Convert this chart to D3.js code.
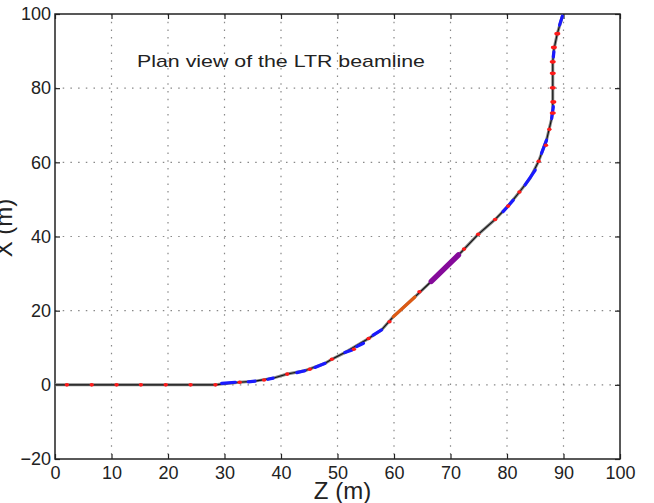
<!DOCTYPE html>
<html>
<head>
<meta charset="utf-8">
<script src="https://cdn.jsdelivr.net/npm/d3@7"></script>
<style>
  body { margin: 0; background: #fff; }
  svg text { font-family: "Liberation Sans", Arial, Helvetica, sans-serif; fill: #222; }
</style>
</head>
<body>
<div id="chart"></div>
<script>
// beam trajectory, [Z, X] in metres
const beamPath = [
  [0, 0], [28.4, 0], [29.5, 0.2], [32.7, 0.7], [35.4, 1.0], [38.6, 1.8], [41.1, 2.9],
  [44.2, 3.8], [47.8, 5.8], [49.0, 6.9], [51.3, 8.7], [55.5, 12.5], [57.8, 14.8],
  [59.9, 18.4], [63.7, 23.7], [66.4, 27.6], [71.4, 35.0], [74.9, 40.6], [77.9, 44.6],
  [80.2, 48.2], [82.2, 52.0], [84.1, 55.7], [85.6, 60.3], [87.0, 66.0], [87.9, 71.8],
  [88.1, 74.5], [88.1, 87.1], [88.3, 90.4], [88.9, 94.7], [89.8, 99.4]
];

// quadrupoles (red)
const quads = [
  [2.1, 0], [6.5, 0], [10.9, 0], [15.2, 0], [19.6, 0], [24.0, 0], [28.4, 0],
  [32.7, 0.7], [37.0, 1.3], [41.1, 2.9], [45.1, 4.2], [49.0, 6.9], [52.9, 9.6],
  [55.5, 12.5], [59.2, 17.0], [64.5, 25.1], [72.4, 36.6], [74.9, 40.6], [77.9, 44.6],
  [80.2, 48.2], [82.2, 52.0], [85.6, 60.3], [86.9, 64.6], [87.5, 68.9], [88.1, 73.3],
  [88.2, 76.3], [88.1, 80.1], [88.1, 84.0], [88.1, 87.1], [88.3, 91.0], [88.9, 94.7]
];

// dipoles (blue), [Z1, X1, Z2, X2]
const dipoles = [
  [29.5, 0.4, 31.9, 0.7], [34.2, 0.8, 35.4, 1.0], [37.7, 1.5, 38.6, 1.8],
  [42.8, 3.3, 44.2, 3.8], [46.0, 4.7, 47.8, 5.8], [51.3, 8.7, 52.6, 9.4],
  [53.4, 10.3, 54.6, 11.2], [56.3, 13.4, 57.8, 14.8], [79.3, 46.7, 81.1, 49.8],
  [83.2, 53.9, 85.0, 57.9], [86.1, 62.4, 87.0, 66.0], [87.9, 71.8, 88.2, 75.0],
  [88.2, 88.4, 88.3, 89.8], [89.3, 97.0, 89.8, 99.4]
];

// other elements
const orangeSeg = [[59.9, 18.4, 63.7, 23.7]];
const purpleSeg = [[66.6, 27.9, 71.4, 35.0]];

const zTicks = [0, 10, 20, 30, 40, 50, 60, 70, 80, 90, 100];
const xTicks = [-20, 0, 20, 40, 60, 80, 100];

const width = 654, height = 503;
const margin = { left: 55, right: 34, top: 14, bottom: 44 };
const innerW = width - margin.left - margin.right;
const innerH = height - margin.top - margin.bottom;

const svg = d3.select('#chart').append('svg')
  .attr('width', width)
  .attr('height', height);

const g = svg.append('g')
  .attr('transform', `translate(${margin.left},${margin.top})`);

const x = d3.scaleLinear().domain([0, 100]).range([0, innerW]);
const y = d3.scaleLinear().domain([-20, 100]).range([innerH, 0]);

// dotted grid
g.append('g').selectAll('line')
  .data(zTicks.slice(1, -1))
  .enter().append('line')
  .attr('x1', d => x(d)).attr('x2', d => x(d))
  .attr('y1', 0).attr('y2', innerH)
  .attr('stroke', '#888').attr('stroke-width', 1.2)
  .attr('stroke-dasharray', '1.5,6.2');

g.append('g').selectAll('line')
  .data(xTicks.slice(1, -1))
  .enter().append('line')
  .attr('y1', d => y(d)).attr('y2', d => y(d))
  .attr('x1', 0).attr('x2', innerW)
  .attr('stroke', '#888').attr('stroke-width', 1.2)
  .attr('stroke-dasharray', '1.5,6.2');

// axes, ticks pointing inward
const styleAxis = sel => {
  sel.select('.domain').remove();
  sel.selectAll('.tick line').attr('stroke', '#222').attr('stroke-width', 1.2);
  sel.selectAll('.tick text').style('font-size', '18px');
};

g.append('g')
  .attr('transform', `translate(0,${innerH})`)
  .call(d3.axisBottom(x).tickValues(zTicks).tickSize(-5).tickPadding(7))
  .call(styleAxis);

g.append('g')
  .call(d3.axisLeft(y).tickValues(xTicks).tickSize(-5).tickPadding(4))
  .call(styleAxis);

g.append('g')
  .call(d3.axisTop(x).tickValues(zTicks).tickSize(-5).tickFormat(''))
  .call(styleAxis);

g.append('g')
  .attr('transform', `translate(${innerW},0)`)
  .call(d3.axisRight(y).tickValues(xTicks).tickSize(-5).tickFormat(''))
  .call(styleAxis);

g.append('rect')
  .attr('width', innerW).attr('height', innerH)
  .attr('fill', 'none')
  .attr('stroke', '#222')
  .attr('stroke-width', 1.5);

// beamline
const line = d3.line().x(d => x(d[0])).y(d => y(d[1]));

g.append('path')
  .datum(beamPath)
  .attr('d', line)
  .attr('fill', 'none')
  .attr('stroke', '#888')
  .attr('stroke-width', 3);

g.append('path')
  .datum(beamPath)
  .attr('d', line)
  .attr('fill', 'none')
  .attr('stroke', '#111')
  .attr('stroke-width', 1.1);

const drawSegs = (data, color, w) => {
  g.append('g').selectAll('line')
    .data(data)
    .enter().append('line')
    .attr('x1', d => x(d[0])).attr('y1', d => y(d[1]))
    .attr('x2', d => x(d[2])).attr('y2', d => y(d[3]))
    .attr('stroke', color)
    .attr('stroke-width', w)
    .attr('stroke-linecap', 'round');
};

drawSegs(dipoles, '#1a1aff', 3.2);
drawSegs(orangeSeg, '#dd5a14', 3.2);
drawSegs(purpleSeg, '#850a9a', 5.5);

g.append('g').selectAll('ellipse')
  .data(quads)
  .enter().append('ellipse')
  .attr('cx', d => x(d[0]))
  .attr('cy', d => y(d[1]))
  .attr('rx', d => d[1] > 70 ? 3 : 2.2)
  .attr('ry', 1.8)
  .attr('fill', '#ff1a1a');

// labels
g.append('text')
  .attr('x', 82)
  .attr('y', 53)
  .attr('textLength', 288)
  .attr('lengthAdjust', 'spacingAndGlyphs')
  .style('font-size', '17px')
  .text('Plan view of the LTR beamline');

svg.append('text')
  .attr('x', margin.left + innerW / 2 + 5)
  .attr('y', 499)
  .attr('text-anchor', 'middle')
  .style('font-size', '24px')
  .text('Z (m)');

svg.append('text')
  .attr('transform', 'translate(12,228) rotate(-90)')
  .attr('text-anchor', 'middle')
  .style('font-size', '24px')
  .text('X (m)');
</script>
</body>
</html>
